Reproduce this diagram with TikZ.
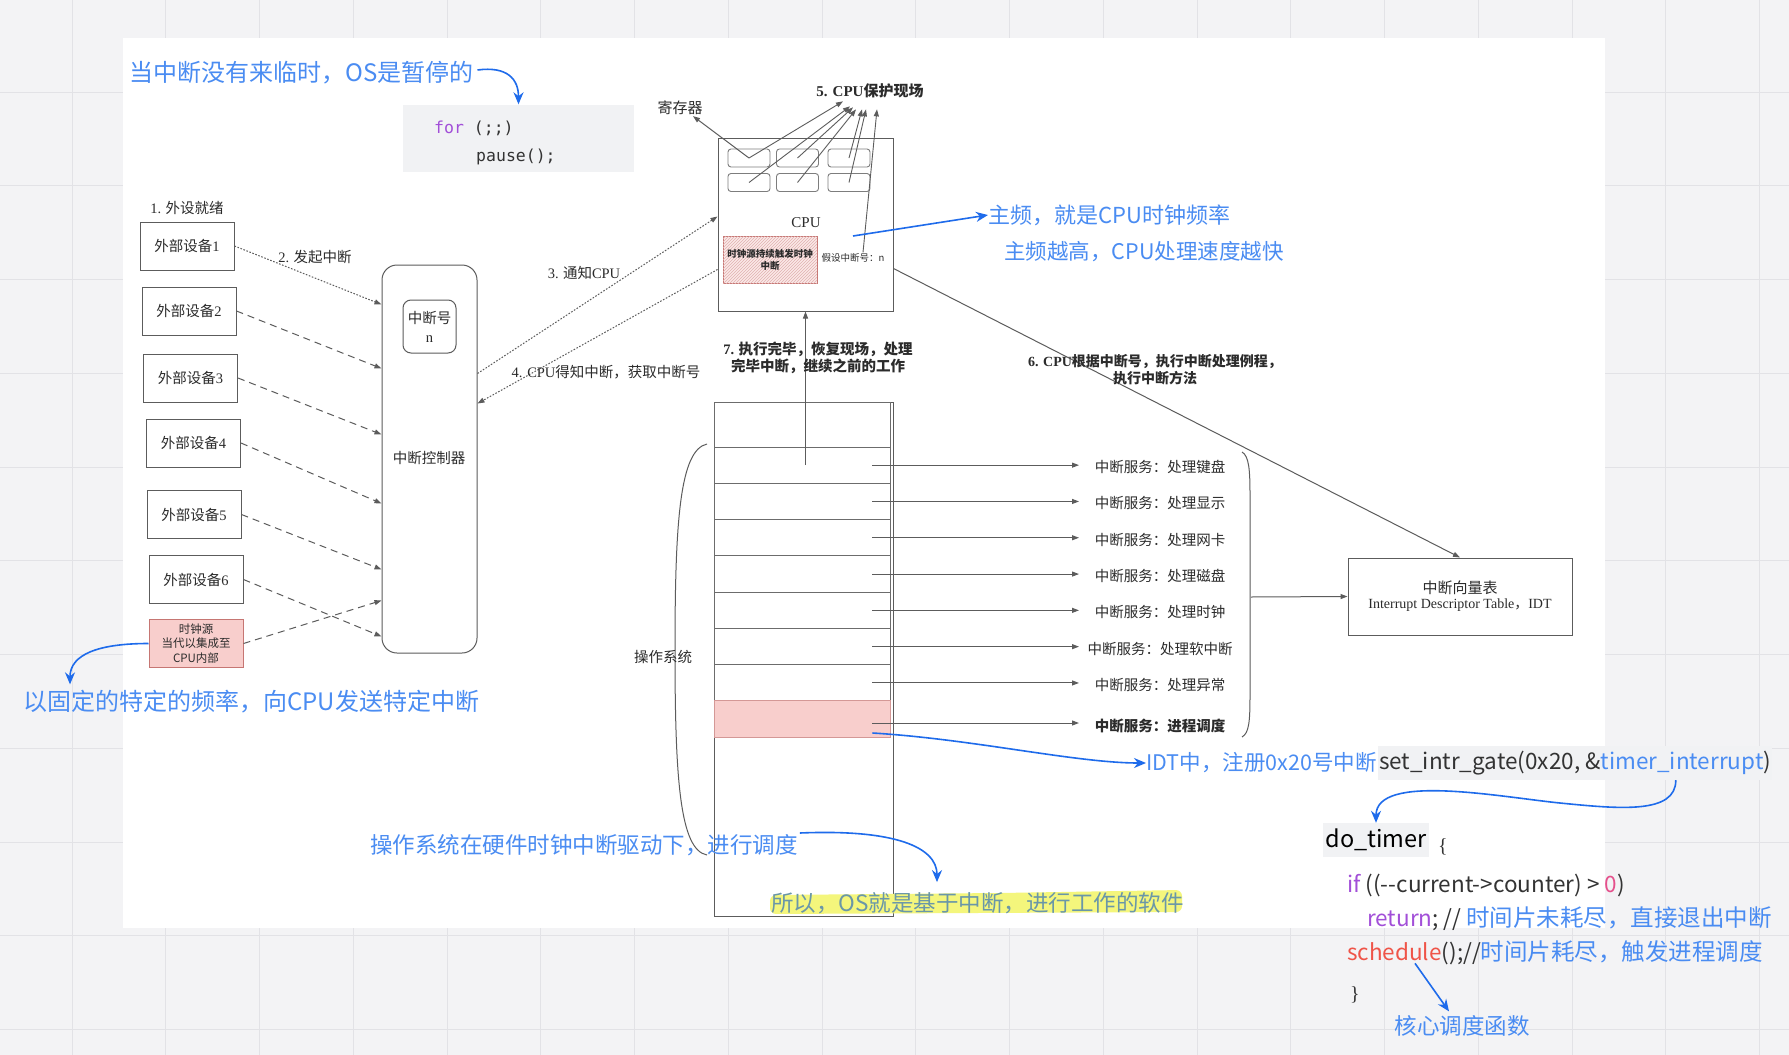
\documentclass[tikz,border=0pt]{standalone}
\usepackage{fontspec}
\setmainfont{Noto Sans CJK SC}
\newfontfamily\latinserif{Liberation Serif}
\newfontfamily\codemono{DejaVu Sans Mono}
\usetikzlibrary{arrows.meta,positioning,calc,patterns}
\definecolor{IrqGray}{HTML}{5C5C5C}
\definecolor{IrqText}{HTML}{2B2B2B}
\definecolor{IrqPink}{HTML}{F8CECC}
\definecolor{IrqRed}{HTML}{B85450}
\definecolor{NoteBlue}{HTML}{4A8CF2}
\definecolor{NoteArrow}{HTML}{1E6BEB}
\definecolor{PaperGray}{HTML}{F3F3F5}
\definecolor{GridGray}{HTML}{E2E2E6}
\definecolor{CodeBg}{HTML}{F1F2F4}
\definecolor{CodeKey}{HTML}{A24FD8}
\definecolor{CodeNum}{HTML}{E5508C}
\definecolor{CodeFun}{HTML}{EF5448}
\definecolor{CodeInk}{HTML}{333333}
\definecolor{MarkYellow}{HTML}{F4F67C}
\definecolor{MarkText}{HTML}{6A97A8}
\newcommand\cmtzh[1]{\textcolor{NoteBlue}{\fontsize{23.5}{28}\selectfont #1}}
\tikzset{
  devbox/.style={draw=IrqGray,line width=1pt,minimum width=94pt,minimum height=48pt,inner sep=0pt,text=IrqText,font=\fontsize{14.5}{17}\selectfont},
  regbox/.style={draw=IrqGray!80,rounded corners=3pt,line width=0.9pt,minimum width=42pt,minimum height=18pt,inner sep=0pt},
  osrow/.style={draw=IrqGray!90,line width=0.9pt,minimum width=176pt,minimum height=36.3pt,inner sep=0pt},
  tag/.style={text=IrqText,font=\fontsize{14.5}{17}\selectfont,inner sep=1pt},
  boldtag/.style={tag,font=\fontsize{14.5}{17}\bfseries\selectfont,align=center},
  note/.style={text=NoteBlue,font=\fontsize{22.5}{27}\selectfont,inner sep=0pt},
  codeline/.style={text=CodeInk,font=\fontsize{22.5}{27}\selectfont,inner sep=0pt},
  link/.style={-{Triangle[length=7pt,width=5pt]},IrqGray,line width=1pt},
  devlink/.style={link,dash pattern=on 7pt off 5pt},
  dotlink/.style={link,dash pattern=on 1.6pt off 1.6pt},
  notearrow/.style={-{Stealth[length=12pt,width=10pt]},NoteArrow,line width=1.6pt}
}
\begin{document}
\begin{tikzpicture}[x=1pt,y=-1pt]
  \useasboundingbox (0,0) rectangle (1789,1055);
  \fill[PaperGray] (0,0) rectangle (1789,1055);
  \foreach \gx in {0,...,18} \draw[GridGray,line width=1pt] ({72+93.75*\gx},0) -- ({72+93.75*\gx},1055);
  \foreach \gy in {0,...,10} \draw[GridGray,line width=1pt] (0,{92+93.75*\gy}) -- (1789,{92+93.75*\gy});
  \fill[white] (123,38) rectangle (1605,928);

  \node[note,anchor=west,font=\fontsize{24}{28}\selectfont] (idle) at (129,73) {当中断没有来临时，OS是暂停的};
  \node[fill=CodeBg,minimum width=231pt,minimum height=67pt,inner sep=0pt] (loopcode) at (518.5,138) {};
  \node[anchor=west,inner sep=0pt,text=CodeInk,font=\codemono\fontsize{16.5}{20}\selectfont] (forline) at (434,128) {\textcolor{CodeKey}{for} (;;)};
  \node[anchor=west,inner sep=0pt,text=CodeInk,font=\codemono\fontsize{16.5}{20}\selectfont] (pauseline) at (476,157) {pause();};
  \draw[notearrow] ($(idle.east)+(4,-3)$) .. controls +(30,-4) and +(0,-25) .. (loopcode.north);

  \node[draw=IrqGray,line width=1pt,minimum width=175pt,minimum height=173pt,inner sep=0pt] (cpu) at (805.5,224.5) {};
  \foreach \r/\y in {1/158,2/182.5}
    \foreach \c/\x in {1/749,2/797.5,3/849}
      \node[regbox] (r\r\c) at (\x,\y) {};
  \node[tag,font=\latinserif\fontsize{15}{18}\selectfont] (cpulabel) at (806,223) {CPU};
  \node[draw=IrqRed!80,fill=IrqPink!45,postaction={pattern=north east lines,pattern color=IrqRed!45},minimum width=94pt,minimum height=47pt,inner sep=1pt,align=center,text=IrqText,font=\fontsize{9.5}{12}\bfseries\selectfont] (tick) at (770,259.5) {时钟源持续触发时钟\\中断};
  \node[tag,font=\fontsize{9.5}{12}\selectfont] (irqn) at (853,258) {假设中断号：n};
  \node[tag,font=\fontsize{15}{18}\selectfont] (regl) at (680,108) {寄存器};
  \node[boldtag,font=\fontsize{15}{18}\bfseries\selectfont] (protect) at (870,91) {{\latinserif 5. CPU}保护现场};
  \draw[link] (r11.center) -- ($(regl.south)+(13,0)$);
  \foreach \s/\dx/\dy in {r11/-27/2,r21/-20/7,r12/-17/8,r22/-14/10,r13/-8/10,r23/-4/10}
    \draw[link,line width=0.9pt] (\s.center) -- ($(protect.south)+(\dx,\dy)$);
  \draw[link,line width=0.9pt] ($(irqn.north)+(10,0)$) -- ($(protect.south)+(7,10)$);

  \node[note,anchor=west,font=\fontsize{22}{26}\selectfont] (freq) at (988,215) {主频，就是CPU时钟频率};
  \node[note,anchor=west,font=\fontsize{21.5}{26}\selectfont] (freq2) at (1004,252) {主频越高，CPU处理速度越快};
  \coordinate (freqpt) at (853,236);
  \draw[notearrow] (freqpt) -- (freq.west);

  \node[draw=IrqGray,line width=1pt,rounded corners=15pt,minimum width=95pt,minimum height=388pt,inner sep=0pt] (ctrl) at (429.5,459) {};
  \node[tag] (ctrllabel) at (429,458) {中断控制器};
  \node[draw=IrqGray,line width=1pt,rounded corners=8pt,minimum size=53pt,inner sep=0pt,align=center,text=IrqText,font=\fontsize{14.5}{19}\selectfont] (irqno) at (429.5,326.5) {中断号\\{\latinserif n}};

  \foreach \i/\x/\y in {1/187/246,2/189/311,3/190.5/378,4/193.5/443,5/194/514.5,6/196/579.5}
    \node[devbox] (dev\i) at (\x,\y) {外部设备{\latinserif\i}};
  \node[devbox,draw=IrqRed!80,fill=IrqPink,align=center,font=\fontsize{11.5}{14.5}\selectfont] (clock) at (196,643.5) {时钟源\\当代以集成至\\CPU内部};
  \node[tag] (ready) at (187,208) {{\latinserif 1.} 外设就绪};
  \node[tag] (raise) at (315,257) {{\latinserif 2.} 发起中断};
  \draw[dotlink] (dev1.east) -- ($(ctrl.north west)+(0,40)$);
  \foreach \i/\dy in {2/104,3/170,4/239,5/305,6/372}
    \draw[devlink] (dev\i.east) -- ($(ctrl.north west)+(0,\dy)$);
  \draw[devlink] (clock.east) -- ($(ctrl.north west)+(0,336)$);

  \draw[dotlink] ($(ctrl.north east)+(0,109)$) -- ($(cpu.north west)+(0,79)$);
  \draw[dotlink] ($(cpu.north west)+(0,132)$) -- ($(ctrl.north east)+(0,139)$);
  \node[tag] (notify) at (584,273) {{\latinserif 3.} 通知{\latinserif CPU}};
  \node[tag] (fetch) at (606,372) {{\latinserif 4. CPU}得知中断，获取中断号};

  \node[draw=IrqGray,line width=1pt,minimum width=179pt,minimum height=514pt,inner sep=0pt] (osstack) at (803.5,659) {};
  \node[osrow,minimum height=45pt] (os0) at (802,424.5) {};
  \foreach \k in {1,...,7}
    \node[osrow] (os\k) at (802,{428.85+36.3*\k}) {};
  \node[osrow,draw=IrqRed!60,fill=IrqPink] (os8) at (802,719) {};
  \draw[link] (os1.center -| cpu.south) -- (cpu.south);
  \node[boldtag] (resume) at (818,358) {{\latinserif 7.} 执行完毕，恢复现场，处理\\完毕中断，继续之前的工作};

  \coordinate (svcx) at (1079,0);
  \foreach \k/\txt in {1/处理键盘,2/处理显示,3/处理网卡,4/处理磁盘,5/处理时钟,6/处理软中断,7/处理异常} {
    \node[tag] (svc\k) at (1160,{430.85+36.3*\k}) {中断服务：\txt};
    \draw[link] ($(os\k.east)+(-18,0)$) -- (os\k.east -| svcx);
  }
  \node[boldtag] (svc8) at (1160,726) {中断服务：进程调度};
  \draw[link] ($(os8.east)+(-18,4)$) -- ($(os8.east -| svcx)+(0,4)$);

  \node[draw=IrqGray,line width=1pt,minimum width=224pt,minimum height=77pt,inner sep=0pt,align=center,text=IrqText] (idt) at (1460,596.5) {{\fontsize{15}{18}\selectfont 中断向量表}\\[3pt]{\fontsize{14}{18}\selectfont\latinserif Interrupt Descriptor Table\normalfont，\latinserif IDT}};
  \draw[link] ($(cpu.north east)+(0,131)$) -- (idt.north);
  \node[boldtag,font=\fontsize{14}{17}\bfseries\selectfont] (lookup) at (1155,370) {{\latinserif 6. CPU}根据中断号，执行中断处理例程，\\执行中断方法};
  \draw[IrqGray,line width=1pt] (1242,452) .. controls (1249,456) and (1250,470) .. (1250,495) -- (1250,695) .. controls (1250,722) and (1249,733) .. (1242,737);
  \coordinate (bracetip) at (1251,597);
  \draw[link] (bracetip) -- (idt.west);

  \draw[IrqGray,line width=1pt] (707,444) .. controls (680,450) and (675,520) .. (675,650) .. controls (675,780) and (680,850) .. (707,855);
  \node[tag] (oslabel) at (663,657) {操作系统};

  \node[note,anchor=west,font=\fontsize{24}{28}\selectfont] (fixfreq) at (23,702) {以固定的特定的频率，向CPU发送特定中断};
  \draw[notearrow] (clock.west) .. controls +(-50,0) and +(0,-30) .. ($(fixfreq.north west)+(47,-6)$);

  \node[note,anchor=west] (osdrive) at (370,845) {操作系统在硬件时钟中断驱动下，进行调度};
  \fill[MarkYellow,rounded corners=6pt] (770,895) -- (1000,893) -- (1182,890) -- (1182,912) -- (770,914) -- cycle;
  \node[note,anchor=west,text=MarkText] (osword) at (771,903) {所以，OS就是基于中断，进行工作的软件};
  \draw[notearrow] ($(osdrive.east)+(2,-12)$) .. controls +(95,-4) and +(0,-35) .. ($(osword.north west)+(166,-10)$);

  \node[note,anchor=west,font=\fontsize{21.5}{26}\selectfont] (idtreg) at (1146,763) {IDT中，注册0x20号中断};
  \node[codeline,fill=CodeBg,inner ysep=5pt,inner xsep=1pt,right=1pt of idtreg] (gate) {set\_intr\_gate(0x20, \&\textcolor{NoteBlue}{timer\_interrupt})};
  \draw[notearrow] ($(os8.east)+(-18,14)$) .. controls +(100,6) and +(-70,0) .. (idtreg.west);
  \node[codeline,fill=CodeBg,inner ysep=6pt,inner xsep=2pt,text=black,font=\fontsize{23.5}{28}\selectfont] (dotimer) at (1376,840) {do\_timer};
  \coordinate (gatebend) at (1560,803);
  \draw[notearrow] ($(gate.south west)+(298,0)$) .. controls +(0,34) and +(60,6) .. (gatebend) .. controls +(-60,-6) and +(0,-50) .. (dotimer.north);
  \node[codeline,anchor=west,font=\latinserif\fontsize{20}{24}\selectfont] (openbrace) at (1438,847) {\{};
  \node[codeline,anchor=west] (ifline) at (1347,885) {\textcolor{CodeKey}{if} ((-{}-current->counter) > \textcolor{CodeNum}{0})};
  \node[codeline,anchor=west] (retline) at (1367,919) {\textcolor{CodeKey}{return}; // \cmtzh{时间片未耗尽，直接退出中断}};
  \node[codeline,anchor=west] (schedline) at (1347,953) {\textcolor{CodeFun}{schedule}();//\cmtzh{时间片耗尽，触发进程调度}};
  \node[codeline,anchor=west,font=\latinserif\fontsize{20}{24}\selectfont] (closebrace) at (1350,995) {\}};
  \node[note] (core) at (1462,1026) {核心调度函数};
  \draw[notearrow] ($(schedline.south west)+(68,-2)$) -- ($(core.north)+(-13,-4)$);
\end{tikzpicture}
\end{document}
